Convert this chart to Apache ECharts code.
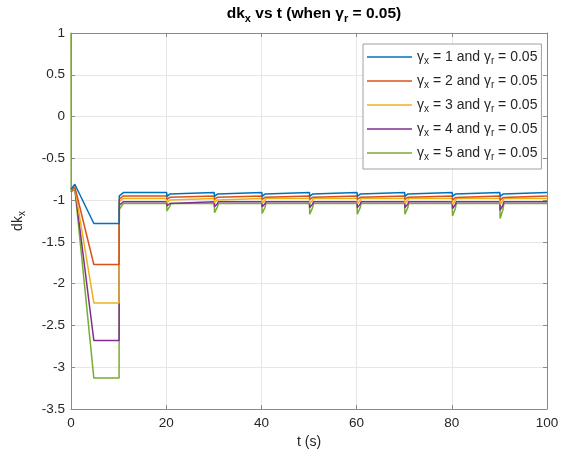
<!DOCTYPE html>
<html>
<head>
<meta charset="utf-8">
<script src="https://cdn.jsdelivr.net/npm/echarts@6/dist/echarts.min.js"></script>
<style>
  html, body { margin: 0; padding: 0; background: #fff; }
  #main { width: 573px; height: 462px; }
</style>
</head>
<body>
<div id="main"></div>
<script>
// values
const gammaX = [1, 2, 3, 4, 5];
const gammaR = 0.05;
const colors = ["#0072BD", "#D95319", "#EDB120", "#7E2F8E", "#77AC30"];

const startVal = [-0.87, -0.88, -0.89, -0.90, -0.90];
const peakVal = [-0.81, -0.84, -0.85, -0.86, -0.86];
const minVal = [-1.28, -1.77, -2.23, -2.68, -3.13];
const jumpVal = [-0.95, -0.99, -1.02, -1.06, -1.11];
const steadyVal = [-0.91, -0.95, -0.98, -1.02, -1.04];

const dipTimes = [20, 30, 40, 50, 60, 70, 80, 90];
const dipBottom = [
  [-0.955, -0.955, -0.955, -0.955, -0.955, -0.955, -0.955, -0.955],
  [-0.99, -0.99, -0.99, -0.99, -0.99, -0.99, -1.00, -1.00],
  [-1.03, -1.03, -1.04, -1.04, -1.04, -1.04, -1.05, -1.05],
  [-1.07, -1.08, -1.08, -1.09, -1.09, -1.09, -1.10, -1.12],
  [-1.13, -1.15, -1.16, -1.17, -1.17, -1.17, -1.19, -1.22]
];

const yTicks = { min: -3.5, max: 1, interval: 0.5 };
const xTicks = { min: 0, max: 100, interval: 20 };

function buildSeries(i) {
  const s = steadyVal[i];
  const pts = [];
  if (i === 4) pts.push([0, 1]); // green starts at 1
  pts.push([i === 4 ? 0.05 : 0, startVal[i]]);
  pts.push([0.8, peakVal[i]]);
  pts.push([4.8, minVal[i]]);
  pts.push([10.1, minVal[i]]);
  pts.push([10.15, jumpVal[i]]);
  pts.push([10.5, jumpVal[i]]);
  pts.push([11, s]);
  dipTimes.forEach((t, k) => {
    const b = dipBottom[i][k];
    pts.push([t + 0.1, s], [t + 0.15, b], [t + 0.5, b],
             [t + 0.75, b + 0.6 * (s - b)], [t + 0.95, s]);
  });
  pts.push([100, s]);
  return pts;
}

const names = gammaX.map(g => `γx = ${g} and γr = ${gammaR}`);

const axisGray = "#8a8a8a";
const labelColor = "#262626";
const font = "Liberation Sans, Arial, sans-serif";

const chart = echarts.init(document.getElementById("main"));

const option = {
  backgroundColor: "#fff",
  animation: false,
  color: colors,
  textStyle: { fontFamily: font },
  title: {
    text: "dk{sub|x} vs t (when γ{sub|r} = 0.05)",
    left: 309,
    textAlign: "center",
    top: -2,
    textStyle: {
      fontSize: 15.5,
      fontWeight: "bold",
      color: "#000",
      fontFamily: font,
      rich: {
        sub: { fontSize: 11, fontWeight: "bold", color: "#000", padding: [10, 0, 0, 0], fontFamily: font }
      }
    }
  },
  grid: { left: 71, right: 26, top: 33, bottom: 53, containLabel: false },
  legend: {
    orient: "vertical",
    left: 363,
    top: 44,
    padding: [6, 4, 7, 4],
    itemGap: 8,
    itemWidth: 45,
    itemHeight: 14,
    backgroundColor: "#fff",
    borderColor: "#a0a0a0",
    borderWidth: 1,
    borderRadius: 0,
    icon: "path://M0,6.5 L45,6.5 L45,8 L0,8 Z",
    formatter: name => {
      const i = names.indexOf(name);
      return `γ{sub|x} = ${gammaX[i]} and γ{sub|r} = ${gammaR}`;
    },
    textStyle: {
      fontSize: 14,
      color: labelColor,
      fontFamily: font,
      rich: {
        sub: { fontSize: 10, color: labelColor, padding: [8, 0, 0, 0], fontFamily: font }
      }
    },
    data: names
  },
  xAxis: [
    {
      type: "value",
      min: xTicks.min, max: xTicks.max, interval: xTicks.interval,
      name: "t (s)",
      nameLocation: "middle",
      nameGap: 25,
      nameTextStyle: { fontSize: 14, color: labelColor, fontFamily: font },
      axisLine: { show: true, onZero: false, lineStyle: { color: axisGray } },
      axisTick: { show: true, inside: true, length: 4, lineStyle: { color: axisGray } },
      axisLabel: { fontSize: 13.5, color: labelColor, margin: 7, fontFamily: font },
      splitLine: { show: true, lineStyle: { color: "#e6e6e6" } }
    },
    {
      type: "value", position: "top",
      min: xTicks.min, max: xTicks.max, interval: xTicks.interval,
      axisLine: { show: true, onZero: false, lineStyle: { color: axisGray } },
      axisTick: { show: true, inside: true, length: 4, lineStyle: { color: axisGray } },
      axisLabel: { show: false },
      splitLine: { show: false }
    }
  ],
  yAxis: [
    {
      type: "value",
      min: yTicks.min, max: yTicks.max, interval: yTicks.interval,
      name: "dk{sub|x}",
      nameLocation: "middle",
      nameGap: 44,
      nameRotate: 90,
      nameTextStyle: {
        fontSize: 14, color: labelColor, fontFamily: font,
        rich: { sub: { fontSize: 10, color: labelColor, padding: [8, 0, 0, 0], fontFamily: font } }
      },
      axisLine: { show: true, onZero: false, lineStyle: { color: axisGray } },
      axisTick: { show: true, inside: true, length: 4, lineStyle: { color: axisGray } },
      axisLabel: { fontSize: 13.5, color: labelColor, margin: 6, fontFamily: font },
      splitLine: { show: true, lineStyle: { color: "#e6e6e6" } }
    },
    {
      type: "value", position: "right",
      min: yTicks.min, max: yTicks.max, interval: yTicks.interval,
      axisLine: { show: true, onZero: false, lineStyle: { color: axisGray } },
      axisTick: { show: true, inside: true, length: 4, lineStyle: { color: axisGray } },
      axisLabel: { show: false },
      splitLine: { show: false }
    }
  ],
  series: names.map((n, i) => ({
    name: n,
    type: "line",
    xAxisIndex: 0,
    yAxisIndex: 0,
    data: buildSeries(i),
    symbol: "none",
    lineStyle: { width: 1.5, color: colors[i] },
    itemStyle: { color: colors[i] },
    z: 10 - i
  }))
};

chart.setOption(option);
</script>
</body>
</html>
